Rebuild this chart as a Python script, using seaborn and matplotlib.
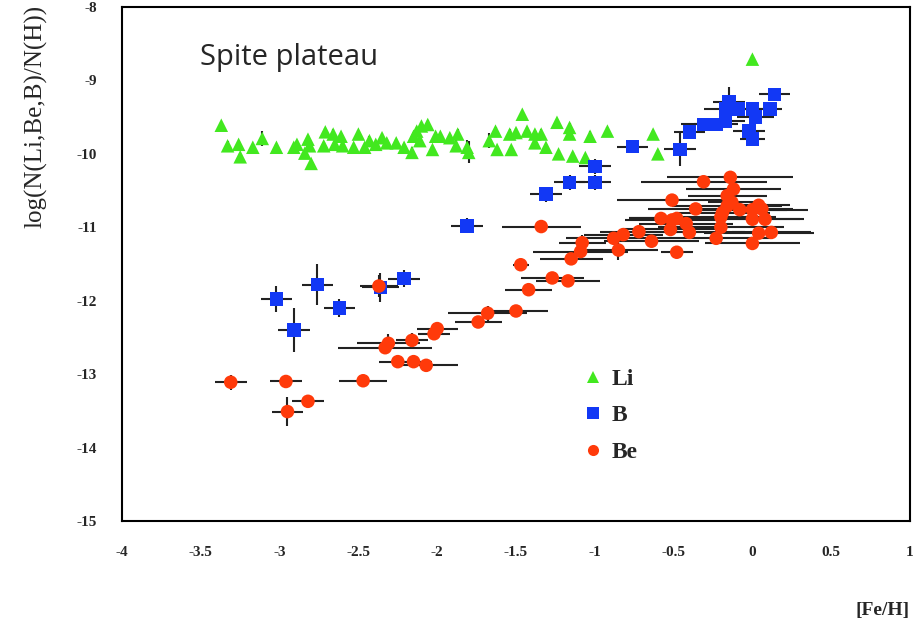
import matplotlib
matplotlib.use("Agg")
import matplotlib.pyplot as plt
from matplotlib.lines import Line2D
from matplotlib.ticker import MultipleLocator
import seaborn as sns
import pandas as pd

# ---------------- data ----------------
li_x = [-3.37, -3.33, -3.26, -3.25, -3.17, -3.11, -3.02, -2.91, -2.89, -2.84,
        -2.82, -2.81, -2.80, -2.71, -2.72, -2.66, -2.65, -2.61, -2.60, -2.53,
        -2.50, -2.46, -2.43, -2.39, -2.35, -2.32, -2.26, -2.21, -2.16, -2.15,
        -2.13, -2.10, -2.06, -2.11, -2.03, -2.01, -1.98, -1.92, -1.87, -1.88,
        -1.81, -1.80, -1.67, -1.63, -1.62, -1.54, -1.53, -1.50, -1.46, -1.43,
        -1.38, -1.38, -1.34, -1.31, -1.24, -1.23, -1.16, -1.16, -1.14, -1.06,
        -1.03, -0.92, -0.63, -0.60, 0.00]
li_y = [-9.61, -9.89, -9.87, -10.04, -9.91, -9.79, -9.91, -9.91, -9.87, -9.99,
        -9.80, -9.89, -10.13, -9.70, -9.89, -9.73, -9.87, -9.76, -9.89, -9.91,
        -9.73, -9.91, -9.82, -9.87, -9.78, -9.85, -9.85, -9.91, -9.98, -9.76,
        -9.69, -9.62, -9.60, -9.82, -9.94, -9.76, -9.76, -9.78, -9.73, -9.89,
        -9.91, -9.98, -9.82, -9.69, -9.94, -9.73, -9.94, -9.71, -9.46, -9.69,
        -9.73, -9.85, -9.73, -9.91, -9.57, -10.00, -9.64, -9.73, -10.03, -10.05,
        -9.76, -9.69, -9.73, -10.00, -8.71]
li_yerr = [0.05, 0.06, 0.05, 0.05, 0.05, 0.10, 0.05, 0.05, 0.06, 0.05,
           0.06, 0.05, 0.05, 0.05, 0.05, 0.07, 0.06, 0.05, 0.06, 0.05,
           0.05, 0.05, 0.06, 0.05, 0.07, 0.05, 0.05, 0.05, 0.07, 0.06,
           0.05, 0.05, 0.06, 0.07, 0.05, 0.06, 0.05, 0.05, 0.07, 0.08,
           0.10, 0.15, 0.10, 0.06, 0.05, 0.07, 0.05, 0.06, 0.05, 0.06,
           0.05, 0.05, 0.07, 0.05, 0.05, 0.05, 0.06, 0.06, 0.05, 0.05,
           0.07, 0.06, 0.05, 0.05, 0.05]

b_x = [-0.76, -0.46, -0.40, -0.31, -0.23, -0.17, -0.17, -0.15, -0.09, 0.00,
       0.02, 0.11, 0.14, -0.02, 0.00, -1.00, -1.00, -1.16, -1.31, -1.81,
       -2.76, -3.02, -2.62, -2.91, -2.36, -2.21]
b_y = [-9.90, -9.94, -9.70, -9.60, -9.60, -9.55, -9.39, -9.29, -9.39, -9.39,
       -9.50, -9.39, -9.19, -9.69, -9.80, -10.17, -10.39, -10.39, -10.55, -10.98,
       -11.78, -11.98, -12.10, -12.40, -11.82, -11.70]
b_xerr = [0.10, 0.10, 0.10, 0.14, 0.14, 0.12, 0.14, 0.10, 0.12, 0.15,
          0.12, 0.08, 0.10, 0.10, 0.08, 0.10, 0.10, 0.10, 0.10, 0.10,
          0.10, 0.10, 0.10, 0.10, 0.12, 0.10]
b_yerr = [0.05, 0.23, 0.08, 0.05, 0.05, 0.05, 0.08, 0.20, 0.05, 0.05,
          0.05, 0.05, 0.05, 0.05, 0.05, 0.10, 0.10, 0.10, 0.10, 0.10,
          0.28, 0.18, 0.12, 0.30, 0.20, 0.12]

be_x = [-3.31, -2.96, -2.95, -2.82, -2.47, -2.37, -2.31, -2.33, -2.16, -2.25,
        -2.15, -2.07, -2.02, -2.00, -1.74, -1.68, -1.50, -1.42, -1.47, -1.34,
        -1.27, -1.17, -1.15, -1.09, -1.08, -0.88, -0.85, -0.82, -0.72, -0.64,
        -0.48, -0.58, -0.51, -0.51, -0.48, -0.52, -0.42, -0.40, -0.36, -0.31,
        -0.23, -0.20, -0.20, -0.19, -0.16, -0.16, -0.14, -0.12, -0.13, -0.08,
        0.00, 0.00, 0.04, 0.06, 0.08, 0.04, 0.00, 0.12]
be_y = [-13.11, -13.10, -13.51, -13.37, -13.09, -11.80, -12.58, -12.64, -12.54, -12.83,
        -12.83, -12.88, -12.45, -12.38, -12.29, -12.17, -12.14, -11.85, -11.51, -10.99,
        -11.69, -11.73, -11.43, -11.33, -11.21, -11.15, -11.31, -11.10, -11.06, -11.19,
        -11.34, -10.88, -10.63, -10.90, -10.88, -11.03, -10.95, -11.07, -10.75, -10.38,
        -11.15, -11.00, -10.86, -10.80, -10.71, -10.57, -10.32, -10.48, -10.66, -10.76,
        -10.89, -10.76, -10.70, -10.75, -10.89, -11.08, -11.22, -11.07]
be_xerr = [0.10, 0.10, 0.10, 0.10, 0.15, 0.12, 0.20, 0.30, 0.10, 0.12,
           0.12, 0.20, 0.10, 0.13, 0.15, 0.25, 0.20, 0.15, 0.05, 0.25,
           0.20, 0.20, 0.20, 0.30, 0.15, 0.30, 0.25, 0.25, 0.25, 0.30,
           0.10, 0.20, 0.35, 0.30, 0.30, 0.30, 0.30, 0.35, 0.30, 0.40,
           0.35, 0.40, 0.35, 0.30, 0.35, 0.25, 0.40, 0.30, 0.15, 0.30,
           0.30, 0.35, 0.20, 0.20, 0.25, 0.35, 0.30, 0.25]
be_yerr = [0.10, 0.07, 0.20, 0.08, 0.05, 0.15, 0.12, 0.08, 0.10, 0.06,
           0.06, 0.05, 0.05, 0.05, 0.08, 0.10, 0.08, 0.05, 0.05, 0.05,
           0.08, 0.05, 0.07, 0.10, 0.10, 0.05, 0.13, 0.05, 0.05, 0.05,
           0.05, 0.05, 0.05, 0.05, 0.05, 0.05, 0.07, 0.07, 0.05, 0.07,
           0.05, 0.05, 0.05, 0.05, 0.05, 0.05, 0.07, 0.05, 0.05, 0.05,
           0.05, 0.05, 0.05, 0.05, 0.05, 0.07, 0.07, 0.05]

x_ticks = [-4, -3.5, -3, -2.5, -2, -1.5, -1, -0.5, 0, 0.5, 1]
x_ticklabels = ["-4", "-3.5", "-3", "-2.5", "-2", "-1.5", "-1", "-0.5", "0", "0.5", "1"]
y_ticks = [-15, -14, -13, -12, -11, -10, -9, -8]
y_ticklabels = ["-15", "-14", "-13", "-12", "-11", "-10", "-9", "-8"]
species = ["Li", "B", "Be"]
colors = {"Li": "#42e81f", "B": "#1238f5", "Be": "#ff3a0a"}
markers = {"Li": "^", "B": "s", "Be": "o"}

# ---------------- build table ----------------
df = pd.concat([
    pd.DataFrame({"feh": li_x, "logN": li_y, "xerr": 0.0, "yerr": li_yerr, "el": "Li"}),
    pd.DataFrame({"feh": b_x, "logN": b_y, "xerr": b_xerr, "yerr": b_yerr, "el": "B"}),
    pd.DataFrame({"feh": be_x, "logN": be_y, "xerr": be_xerr, "yerr": be_yerr, "el": "Be"}),
], ignore_index=True)

sns.set_style("white")
serif = ["Liberation Serif", "DejaVu Serif"]

fig = plt.figure(figsize=(9.19, 6.22), dpi=100)
ax = fig.add_axes([122 / 919, 1 - 521 / 622, 788 / 919, 514 / 622])

# error bars
for el in species:
    sub = df[df["el"] == el]
    ax.errorbar(sub["feh"], sub["logN"], xerr=sub["xerr"], yerr=sub["yerr"],
                fmt="none", ecolor="#222222", elinewidth=1.5, capsize=0, zorder=2)

sns.scatterplot(data=df, x="feh", y="logN", hue="el", style="el",
                palette=colors, markers=markers, hue_order=species,
                style_order=species, s=95, linewidth=0, legend=False,
                ax=ax, zorder=3)

ax.set_xlim(-4, 1)
ax.set_ylim(-15, -8)
ax.set_xticks(x_ticks)
ax.set_xticklabels(x_ticklabels)
ax.set_yticks(y_ticks)
ax.set_yticklabels(y_ticklabels)
ax.xaxis.set_minor_locator(MultipleLocator(0.1))
ax.yaxis.set_minor_locator(MultipleLocator(0.2))
ax.tick_params(axis="both", which="both", direction="in", top=False, right=False,
               color="black", width=1.2)
ax.tick_params(axis="x", which="major", length=15.5, pad=18)
ax.tick_params(axis="x", which="minor", length=8)
ax.tick_params(axis="y", which="major", length=14, pad=18)
ax.tick_params(axis="y", which="minor", length=7.5)
for lab in ax.get_xticklabels() + ax.get_yticklabels():
    lab.set_fontfamily(serif)
    lab.set_fontweight("bold")
    lab.set_fontsize(11)
for sp in ax.spines.values():
    sp.set_visible(True)
    sp.set_color("black")
    sp.set_linewidth(1.5)
ax.set_xlabel("")
ax.set_ylabel("")

fig.text(36 / 919, 1 - 116 / 622, "log(N(Li,Be,B)/N(H))", rotation=90,
         ha="center", va="center", fontsize=18, family=serif)
fig.text(910 / 919, 1 - 610 / 622, "[Fe/H]", ha="right", va="center",
         fontsize=14, fontweight="bold", family=serif)
ax.text((200 - 122) / 788, (521 - 65) / 514, "Spite plateau", transform=ax.transAxes,
        ha="left", va="baseline", fontsize=21, family=["Open Sans", "DejaVu Sans"])

handles = [Line2D([], [], linestyle="none", marker=markers[e], color=colors[e],
                  markersize=8, markeredgewidth=0) for e in species]
leg = ax.legend(handles, species, loc="upper left",
                bbox_to_anchor=((562 - 122) / 788, (521 - 347) / 514),
                frameon=False, handletextpad=0.4, labelspacing=0.64,
                handlelength=0.8, prop={"family": serif, "weight": "bold", "size": 17})

fig.savefig("out.png", dpi=100)
